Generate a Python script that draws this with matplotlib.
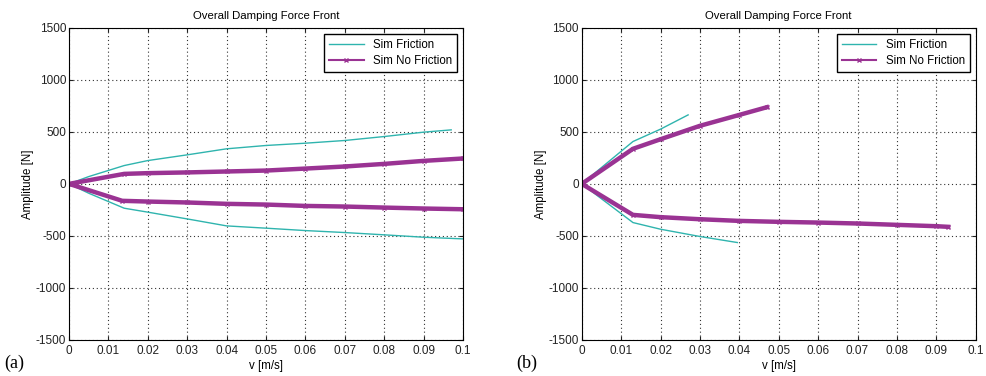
import matplotlib
matplotlib.use('Agg')
import matplotlib.pyplot as plt

plt.rcParams['font.family'] = 'Liberation Sans'
plt.rcParams['font.size'] = 8.3
plt.rcParams['axes.unicode_minus'] = False

# (a) damping force vs velocity, compression (positive) and rebound (negative) branches
a_fric_v_up = [0, 0.005, 0.014, 0.02, 0.03, 0.04, 0.05, 0.06, 0.07, 0.08, 0.09, 0.097]
a_fric_f_up = [0, 70, 176, 224, 279, 337, 369, 391, 417, 455, 497, 519]
a_fric_v_dn = [0, 0.005, 0.014, 0.02, 0.03, 0.04, 0.05, 0.06, 0.07, 0.08, 0.09, 0.1]
a_fric_f_dn = [0, -90, -234, -272, -337, -404, -426, -449, -468, -490, -513, -529]
a_nofric_v_up = [0, 0.014, 0.02, 0.03, 0.04, 0.05, 0.06, 0.07, 0.08, 0.09, 0.1]
a_nofric_f_up = [0, 96, 103, 110, 119, 128, 147, 167, 192, 221, 244]
a_nofric_v_dn = [0, 0.0135, 0.02, 0.03, 0.04, 0.05, 0.06, 0.07, 0.08, 0.09, 0.1]
a_nofric_f_dn = [0, -163, -170, -179, -192, -199, -212, -218, -228, -237, -244]

# (b)
b_fric_v_up = [0, 0.013, 0.02, 0.027]
b_fric_f_up = [0, 407, 526, 663]
b_fric_v_dn = [0, 0.013, 0.02, 0.03, 0.0395]
b_fric_f_dn = [0, -372, -436, -506, -564]
b_nofric_v_up = [0, 0.013, 0.02, 0.03, 0.04, 0.047]
b_nofric_f_up = [0, 337, 429, 558, 663, 737]
b_nofric_v_dn = [0, 0.013, 0.02, 0.03, 0.04, 0.05, 0.06, 0.07, 0.08, 0.09, 0.093]
b_nofric_f_dn = [0, -298, -320, -340, -356, -365, -372, -381, -394, -407, -413]

cyan = '#2fb4ae'
magenta = '#9a3393'


def branch(v_up, f_up, v_dn, f_dn):
    # one continuous curve: positive branch back to the origin, then negative branch
    return v_up[::-1] + v_dn[1:], f_up[::-1] + f_dn[1:]


def draw(ax, fric, nofric, tag):
    ax.plot(*branch(*fric), color=cyan, lw=1.0, label='Sim Friction')
    ax.plot(*branch(*nofric), color=magenta, lw=3.2, marker='x', ms=3,
            mew=1, label='Sim No Friction')
    ax.set_xlim(0, 0.1)
    ax.set_ylim(-1500, 1500)
    ax.set_xticks([i / 100 for i in range(11)])
    ax.set_xticklabels(['0'] + ['0.%02d' % i for i in range(1, 10)] + ['0.1'])
    ax.set_yticks(range(-1500, 1501, 500))
    ax.grid(True, linestyle=(0, (1, 2.5)), color='#333333', linewidth=0.8)
    ax.tick_params(direction='in', top=True, right=True, length=3, pad=2,
                   colors='#222222', labelsize=8.5)
    ax.tick_params(axis='x', pad=4)
    for s in ax.spines.values():
        s.set_linewidth(0.8)
    ax.set_title('Overall Damping Force Front', fontsize=8.2, pad=6)
    ax.set_xlabel('v [m/s]', labelpad=2)
    ax.set_ylabel('Amplitude [N]', labelpad=1)
    leg = ax.legend(loc='upper right', fancybox=False, edgecolor='black',
                    framealpha=1, fontsize=8.3, borderaxespad=0.5,
                    handlelength=3.0, borderpad=0.45, labelspacing=0.35)
    leg.get_frame().set_linewidth(1.0)
    leg.get_lines()[1].set_linewidth(1.5)
    ax.text(-0.165, -0.075, tag, transform=ax.transAxes, fontsize=13,
            family='Liberation Serif', ha='left', va='center')


fig = plt.figure(figsize=(9.86, 3.76), dpi=100)
ax1 = fig.add_axes([0.070, 0.096, 0.3996, 0.830])
ax2 = fig.add_axes([0.590, 0.096, 0.3996, 0.830])

draw(ax1, (a_fric_v_up, a_fric_f_up, a_fric_v_dn, a_fric_f_dn),
     (a_nofric_v_up, a_nofric_f_up, a_nofric_v_dn, a_nofric_f_dn), '(a)')
draw(ax2, (b_fric_v_up, b_fric_f_up, b_fric_v_dn, b_fric_f_dn),
     (b_nofric_v_up, b_nofric_f_up, b_nofric_v_dn, b_nofric_f_dn), '(b)')

fig.savefig('out.png', dpi=100)
